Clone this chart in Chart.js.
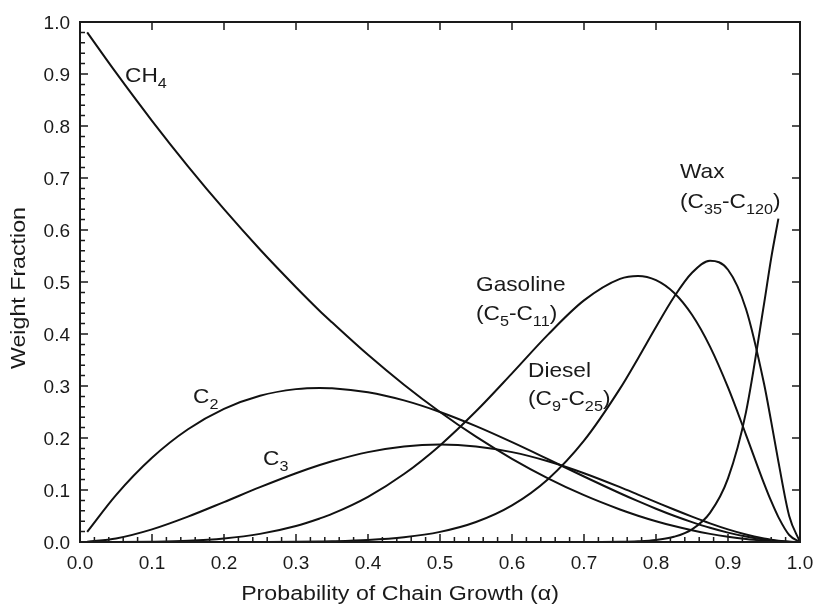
<!DOCTYPE html>
<html>
<head>
<meta charset="utf-8">
<script src="https://cdn.jsdelivr.net/npm/chart.js@4.4.1/dist/chart.umd.min.js"></script>
<style>
  html, body { margin: 0; padding: 0; background: #fff; }
  #wrap { width: 813px; height: 605px; }
</style>
</head>
<body>
<div id="wrap"><canvas id="asfChart" width="813" height="605"></canvas></div>
<script>
// probability of chain growth (alpha) at which values were read
const alpha = [0.01, 0.05, 0.1, 0.15, 0.2, 0.25, 0.3, 0.333, 0.35, 0.4, 0.45, 0.5, 0.55, 0.6, 0.65,
               0.7, 0.75, 0.775, 0.8, 0.825, 0.85, 0.875, 0.9, 0.925, 0.95, 0.96, 0.97, 0.985, 1.0];

const ch4 = [0.9801, 0.9025, 0.81, 0.7225, 0.64, 0.5625, 0.49, 0.4444, 0.4225, 0.36, 0.3025, 0.25, 0.2025, 0.16, 0.1225,
             0.09, 0.0625, 0.0506, 0.04, 0.0306, 0.0225, 0.0156, 0.01, 0.0056, 0.0025, 0.0016, 0.0009, 0.0002, 0];
const c2 = [0.0196, 0.0903, 0.162, 0.2168, 0.256, 0.2813, 0.294, 0.2963, 0.2958, 0.288, 0.2723, 0.25, 0.2228, 0.192, 0.1593,
            0.126, 0.0938, 0.0785, 0.064, 0.0505, 0.0383, 0.0273, 0.018, 0.0104, 0.0048, 0.0031, 0.0017, 0.0004, 0];
const c3 = [0.0003, 0.0068, 0.0243, 0.0488, 0.0768, 0.1055, 0.1323, 0.1481, 0.1553, 0.1728, 0.1838, 0.1875, 0.1838, 0.1728, 0.1553,
            0.1323, 0.1055, 0.0912, 0.0768, 0.0625, 0.0488, 0.0359, 0.0243, 0.0144, 0.0068, 0.0044, 0.0025, 0.0007, 0];
const gasoline = [0, 0, 0.0005, 0.0022, 0.0067, 0.0156, 0.0308, 0.0453, 0.054, 0.0869, 0.1307, 0.1858, 0.2513, 0.3243, 0.3988,
                  0.4646, 0.5061, 0.5117, 0.5036, 0.4793, 0.4369, 0.3757, 0.2972, 0.2062, 0.1128, 0.0784, 0.0479, 0.0135, 0];
const diesel = [0, 0, 0, 0, 0, 0.0001, 0.0004, 0.001, 0.0014, 0.0038, 0.0091, 0.0195, 0.0385, 0.0705, 0.1209,
                0.1949, 0.2949, 0.3531, 0.4135, 0.4712, 0.5178, 0.5408, 0.5236, 0.4481, 0.3047, 0.2314, 0.1546, 0.0501, 0];
const wax = [0, 0, 0, 0, 0, 0, 0, 0, 0, 0, 0, 0, 0, 0, 0,
             0.0001, 0.0005, 0.0015, 0.004, 0.01, 0.0243, 0.056, 0.1223, 0.2498, 0.4573, 0.546, 0.622, null, null];

const seriesNames = ['CH4', 'C2', 'C3', 'Gasoline', 'Diesel', 'Wax'];
const seriesValues = [ch4, c2, c3, gasoline, diesel, wax];

// axis tick labels (same on both axes)
const tickValues = [0, 0.1, 0.2, 0.3, 0.4, 0.5, 0.6, 0.7, 0.8, 0.9, 1.0];
const tickLabels = ['0.0', '0.1', '0.2', '0.3', '0.4', '0.5', '0.6', '0.7', '0.8', '0.9', '1.0'];

const FONT = '"Liberation Sans", Arial, Helvetica, sans-serif';
const INK = '#1a1a1a';

function toPoints(ys) {
  return alpha.map((a, i) => ({ x: a, y: ys[i] }));
}

// text with subscripts, parts starting with "_" are subscripts
function drawRich(ctx, x, y, parts, size, stretch) {
  ctx.save();
  ctx.translate(x, y);
  ctx.scale(stretch, 1);
  ctx.fillStyle = INK;
  ctx.textBaseline = 'alphabetic';
  ctx.textAlign = 'left';
  let cx = 0;
  parts.forEach(p => {
    const sub = p.startsWith('_');
    const t = sub ? p.slice(1) : p;
    ctx.font = (sub ? Math.round(size * 0.72) : size) + 'px ' + FONT;
    ctx.fillText(t, cx, sub ? size * 0.27 : 0);
    cx += ctx.measureText(t).width;
  });
  ctx.restore();
}

const decorations = {
  id: 'decorations',
  afterDatasetsDraw(chart) {
    const { ctx, chartArea: { left, right, top, bottom } } = chart;
    const xs = chart.scales.x, ys = chart.scales.y;
    ctx.save();
    ctx.strokeStyle = INK;
    ctx.lineWidth = 2;
    ctx.strokeRect(left, top, right - left, bottom - top);

    // inward ticks: minor every 0.02 on bottom/left, majors mirrored top/right
    ctx.lineWidth = 1.5;
    ctx.beginPath();
    for (let i = 1; i < 50; i++) {
      const major = i % 5 === 0;
      const len = major ? 8 : 5;
      const px = xs.getPixelForValue(i / 50);
      ctx.moveTo(px, bottom);
      ctx.lineTo(px, bottom - len);
      if (major) {
        ctx.moveTo(px, top);
        ctx.lineTo(px, top + 8);
      }
      const py = ys.getPixelForValue(i / 50);
      ctx.moveTo(left, py);
      ctx.lineTo(left + len, py);
      if (major) {
        ctx.moveTo(right, py);
        ctx.lineTo(right - 8, py);
      }
    }
    ctx.stroke();

    // tick labels
    ctx.fillStyle = INK;
    ctx.font = '19px ' + FONT;
    ctx.textBaseline = 'alphabetic';
    tickValues.forEach((v, i) => {
      ctx.textAlign = 'center';
      ctx.fillText(tickLabels[i], xs.getPixelForValue(v), bottom + 27);
      ctx.textAlign = 'right';
      ctx.fillText(tickLabels[i], left - 10, ys.getPixelForValue(v) + 7);
    });

    // curve labels
    drawRich(ctx, 125, 82, ['CH', '_4'], 21, 1.08);
    drawRich(ctx, 193, 403, ['C', '_2'], 21, 1.08);
    drawRich(ctx, 263, 465, ['C', '_3'], 21, 1.08);
    drawRich(ctx, 476, 291, ['Gasoline'], 21, 1.08);
    drawRich(ctx, 476, 320, ['(C', '_5', '-C', '_11', ')'], 21, 1.08);
    drawRich(ctx, 528, 377, ['Diesel'], 21, 1.08);
    drawRich(ctx, 528, 405, ['(C', '_9', '-C', '_25', ')'], 21, 1.08);
    drawRich(ctx, 680, 178, ['Wax'], 21, 1.08);
    drawRich(ctx, 680, 208, ['(C', '_35', '-C', '_120', ')'], 21, 1.08);

    // axis titles
    ctx.fillStyle = INK;
    ctx.font = '20px ' + FONT;
    ctx.textAlign = 'center';
    ctx.textBaseline = 'alphabetic';
    ctx.save();
    ctx.translate(400, 600);
    ctx.scale(1.16, 1);
    ctx.fillText('Probability of Chain Growth (\u03B1)', 0, 0);
    ctx.restore();

    ctx.save();
    ctx.translate(25, 288);
    ctx.rotate(-Math.PI / 2);
    ctx.scale(1.16, 1);
    ctx.fillText('Weight Fraction', 0, 0);
    ctx.restore();
    ctx.restore();
  }
};

const ctx = document.getElementById('asfChart').getContext('2d');
new Chart(ctx, {
  type: 'line',
  data: {
    datasets: seriesValues.map((vals, i) => ({
      label: seriesNames[i],
      data: toPoints(vals),
      borderColor: '#111',
      borderWidth: 2,
      pointRadius: 0,
      fill: false,
      cubicInterpolationMode: 'monotone',
      clip: false
    }))
  },
  options: {
    responsive: false,
    animation: false,
    layout: { padding: { top: 22, right: 13, left: 0, bottom: 0 } },
    plugins: { legend: { display: false }, tooltip: { enabled: false } },
    scales: {
      x: {
        type: 'linear',
        min: 0,
        max: 1,
        grid: { display: false, drawTicks: false },
        border: { display: false },
        ticks: { display: false, stepSize: 0.1 },
        afterFit: s => { s.height = 63; }
      },
      y: {
        min: 0,
        max: 1,
        grid: { display: false, drawTicks: false },
        border: { display: false },
        ticks: { display: false, stepSize: 0.1 },
        afterFit: s => { s.width = 80; }
      }
    }
  },
  plugins: [decorations]
});
</script>
</body>
</html>
